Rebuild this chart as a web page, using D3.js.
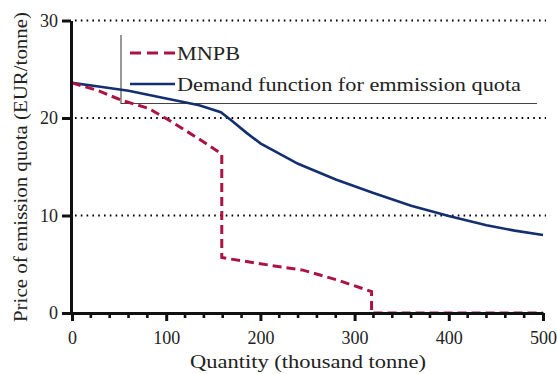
<!DOCTYPE html>
<html>
<head>
<meta charset="utf-8">
<script src="https://cdn.jsdelivr.net/npm/d3@7"></script>
<style>
  body { margin: 0; background: #fff; }
  svg { display: block; }
  text { font-family: "Liberation Serif", "Times New Roman", Times, serif; fill: #222; }
</style>
</head>
<body>
<svg id="chart" width="557" height="374"></svg>
<script>
// demand function for emission quota (thousand tonne, EUR/tonne)
const demandX = [0, 30, 60, 100, 135, 158, 170, 185, 200, 240, 280, 320, 360, 400, 440, 470, 500];
const demandY = [23.6, 23.2, 22.8, 22.0, 21.3, 20.6, 19.7, 18.5, 17.4, 15.3, 13.7, 12.3, 11.0, 9.95, 9.0, 8.45, 8.0];

// MNPB curve
const mnpbX = [0, 28, 53, 81, 106, 134, 159, 159, 164, 210, 245, 281, 318, 318, 500];
const mnpbY = [23.6, 22.8, 21.8, 21.0, 19.6, 17.9, 16.3, 5.7, 5.6, 4.9, 4.4, 3.4, 2.2, 0, 0];

const xTicks = [0, 100, 200, 300, 400, 500];
const yTicks = [0, 10, 20, 30];
const gridY = [10, 20, 30];
const legendLabels = ['MNPB', 'Demand function for emmission quota'];

const svg = d3.select('#chart');
const x = d3.scaleLinear().domain([0, 500]).range([72, 543]);
const y = d3.scaleLinear().domain([0, 30]).range([313, 20.5]);

const red = '#ab1340';
const blue = '#142f70';

// dotted grid
svg.append('g')
  .selectAll('line')
  .data(gridY)
  .join('line')
  .attr('x1', x(0) + 3).attr('x2', 546)
  .attr('y1', (d) => y(d)).attr('y2', (d) => y(d))
  .attr('stroke', '#000')
  .attr('stroke-width', 1.8)
  .attr('stroke-dasharray', '1.6,4.2');

// legend frame
svg.append('path')
  .attr('d', 'M121,35V103.5H537')
  .attr('fill', 'none')
  .attr('stroke', '#444')
  .attr('stroke-width', 1.1);

const line = d3.line().x((d) => x(d[0])).y((d) => y(d[1]));

svg.append('path')
  .datum(demandX.map((v, i) => [v, demandY[i]]))
  .attr('d', line)
  .attr('fill', 'none')
  .attr('stroke', blue)
  .attr('stroke-width', 2.6);

svg.append('path')
  .datum(mnpbX.map((v, i) => [v, mnpbY[i]]))
  .attr('d', line)
  .attr('fill', 'none')
  .attr('stroke', red)
  .attr('stroke-width', 3)
  .attr('stroke-dasharray', '9,5');

// axes
const xAxis = d3.axisBottom(x).tickValues(xTicks).tickSize(8).tickPadding(8).tickSizeOuter(0);
const gx = svg.append('g').attr('transform', 'translate(0,313)').call(xAxis);
gx.select('.domain').attr('stroke', '#111').attr('stroke-width', 3);
gx.selectAll('.tick line').attr('stroke', '#111').attr('stroke-width', 3);
gx.selectAll('.tick text').attr('font-size', 18).attr('fill', '#222').attr('dy', '0.85em');

// minor x ticks
const minor = d3.range(0, 501, 20).filter((d) => d % 100 !== 0);
svg.append('g')
  .selectAll('line')
  .data(minor)
  .join('line')
  .attr('x1', (d) => x(d)).attr('x2', (d) => x(d))
  .attr('y1', 313).attr('y2', 318)
  .attr('stroke', '#111')
  .attr('stroke-width', 2.6);

const yAxis = d3.axisLeft(y).tickValues(yTicks).tickSize(9).tickPadding(4).tickSizeOuter(0);
const gy = svg.append('g').attr('transform', 'translate(71,0)').call(yAxis);
gy.select('.domain').attr('stroke', '#111').attr('stroke-width', 3);
gy.selectAll('.tick line').attr('stroke', '#111').attr('stroke-width', 3);
gy.selectAll('.tick text').attr('font-size', 18).attr('fill', '#222');

// titles
svg.append('text')
  .attr('x', 190).attr('y', 368)
  .attr('font-size', 18)
  .attr('textLength', 236)
  .attr('lengthAdjust', 'spacingAndGlyphs')
  .text('Quantity (thousand tonne)');

svg.append('text')
  .attr('transform', 'translate(27,322) rotate(-90)')
  .attr('font-size', 18)
  .attr('textLength', 310)
  .attr('lengthAdjust', 'spacingAndGlyphs')
  .text('Price of emission quota (EUR/tonne)');

// legend
const legend = svg.append('g');
const legendY = [53, 84];
const legendTextLen = [63, 344];
legend.selectAll('line')
  .data(legendLabels)
  .join('line')
  .attr('x1', 130).attr('x2', 175)
  .attr('y1', (d, i) => legendY[i]).attr('y2', (d, i) => legendY[i])
  .attr('stroke', (d, i) => (i === 0 ? red : blue))
  .attr('stroke-width', (d, i) => (i === 0 ? 3 : 2.6))
  .attr('stroke-dasharray', (d, i) => (i === 0 ? '11,6' : null));

legend.selectAll('text')
  .data(legendLabels)
  .join('text')
  .attr('x', 177)
  .attr('y', (d, i) => legendY[i] + 7)
  .attr('font-size', 18)
  .attr('textLength', (d, i) => legendTextLen[i])
  .attr('lengthAdjust', 'spacingAndGlyphs')
  .text((d) => d);
</script>
</body>
</html>
